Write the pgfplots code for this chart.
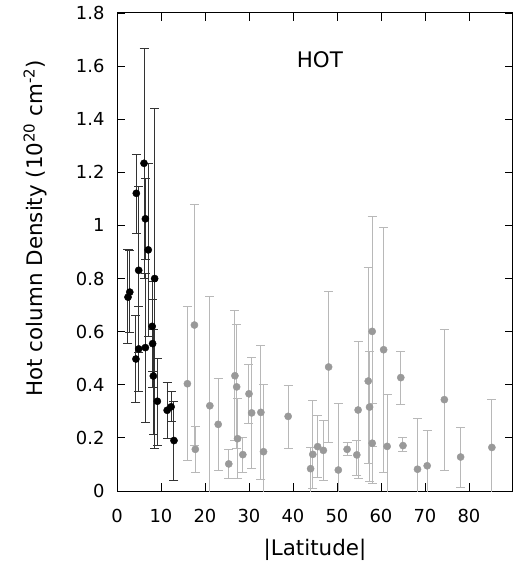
\documentclass[border=0pt]{standalone}
\usepackage{pgfplots}
\pgfplotsset{compat=1.18}
\usepackage{pgfplotstable}
\usepackage{fontspec}
\setmainfont{DejaVu Sans}
\definecolor{gpt}{HTML}{999999}
\definecolor{gbar}{HTML}{B8B8B8}
\definecolor{bbar}{HTML}{333333}

\pgfplotstableread{
x y hi lo
2.5 0.730 0.910 0.555
2.9 0.749 0.905 0.596
4.3 0.497 0.660 0.332
4.39 1.121 1.269 0.970
4.93 0.831 1.146 0.520
4.93 0.535 0.694 0.375
6.14 1.234 1.667 0.800
6.45 1.025 1.176 0.870
6.45 0.540 0.820 0.257
7.1 0.908 1.234 0.580
8.0 0.620 0.790 0.450
8.1 0.555 0.720 0.390
8.26 0.433 0.610 0.213
8.56 0.800 1.440 0.160
9.17 0.338 0.500 0.170
11.4 0.304 0.408 0.198
12.3 0.317 0.373 0.262
12.95 0.190 0.336 0.041
}\blackdata

\pgfplotstableread{
x y hi lo
16.0 0.404 0.695 0.114
17.6 0.625 1.079 0.172
17.8 0.157 0.244 0.069
21.1 0.321 0.733 -0.1
23.0 0.251 0.425 0.078
25.4 0.102 0.156 0.048
26.8 0.434 0.678 0.19
27.2 0.392 0.626 0.16
27.4 0.197 0.348 0.048
28.6 0.137 0.203 0.070
30.0 0.366 0.478 0.256
30.6 0.294 0.502 0.083
32.7 0.296 0.547 0.045
33.3 0.148 0.402 -0.1
38.9 0.281 0.399 0.161
44.0 0.084 0.162 -0.1
44.5 0.138 0.341 0.010
45.6 0.167 0.284 0.052
46.9 0.153 0.266 0.039
48.1 0.467 0.750 0.182
50.3 0.079 0.329 -0.1
52.3 0.157 0.181 0.132
54.5 0.136 0.190 0.060
54.8 0.305 0.563 0.048
57.1 0.414 0.842 0.104
57.4 0.316 0.527 0.035
58.0 0.601 1.035 0.167
58.0 0.180 0.330 0.029
60.6 0.532 0.994 0.070
61.4 0.168 0.364 -0.1
64.5 0.427 0.526 0.324
65.0 0.171 0.200 0.148
68.3 0.082 0.274 -0.1
70.5 0.095 0.227 -0.1
74.4 0.344 0.610 0.078
78.1 0.128 0.238 0.015
85.2 0.164 0.346 -0.1
}\greydata

\begin{document}
\begin{tikzpicture}
\useasboundingbox (0,0) rectangle (516bp,566bp);
\begin{axis}[
  at={(117bp,75bp)}, anchor=south west,
  width=396bp, height=478bp, scale only axis,
  xmin=0, xmax=90, ymin=0, ymax=1.8,
  xtick={0,10,...,80},
  ytick={0,0.2,...,1.8},
  /pgf/number format/fixed,
  /pgf/number format/assume math mode=true,
  tick label style={font=\fontsize{18}{20}\selectfont},
  xticklabel style={yshift=-15bp},
  yticklabel style={xshift=-9bp},
  label style={font=\fontsize{21.5}{24}\selectfont},
  major tick length=8bp,
  tick align=inside,
  tick style={black, line width=0.8bp},
  axis line style={black, line width=1bp},
  xlabel={|Latitude|},
  ylabel={Hot column Density (10\textsuperscript{20} cm\textsuperscript{-2})},
  xlabel style={at={(axis description cs:0.5,-0.124)}, anchor=center},
  ylabel style={at={(axis description cs:-0.207,0.55)}, anchor=center},
]
\addplot[only marks, mark=*, mark size=3.6bp, color=gpt,
  mark options={draw=gpt, fill=gpt},
  error bars/.cd, y dir=both, y explicit,
  error bar style={gbar, line width=1bp},
  error mark options={gbar, line width=1bp, mark size=4.5bp, rotate=90}]
  table[x=x, y=y, y error plus expr=\thisrow{hi}-\thisrow{y}, y error minus expr=\thisrow{y}-\thisrow{lo}] {\greydata};
\addplot[only marks, mark=*, mark size=3.6bp, color=black,
  mark options={draw=black, fill=black},
  error bars/.cd, y dir=both, y explicit,
  error bar style={bbar, line width=1bp},
  error mark options={bbar, line width=1bp, mark size=4.5bp, rotate=90}]
  table[x=x, y=y, y error plus expr=\thisrow{hi}-\thisrow{y}, y error minus expr=\thisrow{y}-\thisrow{lo}] {\blackdata};
\node[font=\fontsize{21.5}{24}\selectfont] at (axis cs:46.1,1.623) {HOT};
\end{axis}
\end{tikzpicture}
\end{document}
